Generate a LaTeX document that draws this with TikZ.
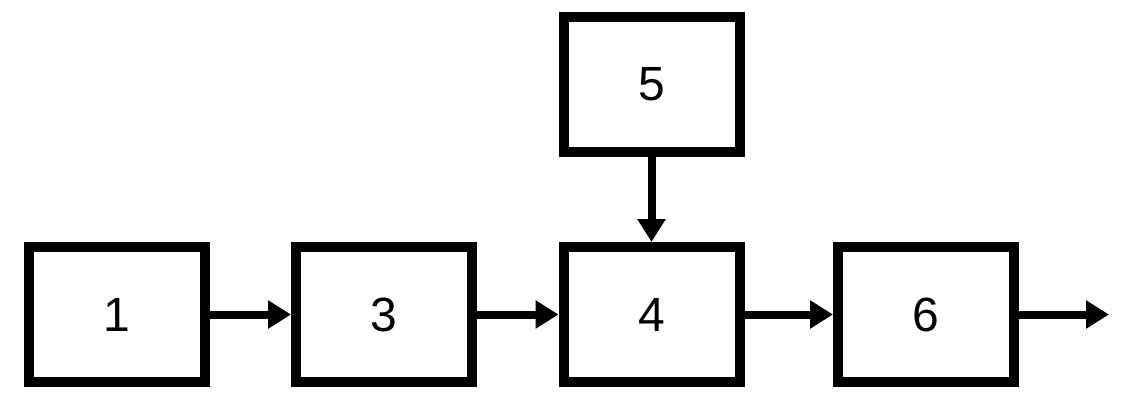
\documentclass[tikz,border=0pt]{standalone}
\usepackage{fontspec}
\setmainfont{Liberation Sans}
\usetikzlibrary{arrows.meta}
\begin{document}
\begin{tikzpicture}[x=1pt,y=-1pt,
  blockbox/.style={draw=black,line width=10pt,minimum width=176pt,minimum height=135pt,inner sep=0pt,font=\fontsize{48}{54}\selectfont},
  conn/.style={line width=8pt,-{Triangle[length=23pt,width=27pt]}}]
\useasboundingbox (0,0) rectangle (1128,402);
\node[blockbox] (n1) at (117,314.5) {1};
\node[blockbox] (n3) at (384,314.5) {3};
\node[blockbox] (n4) at (651.5,314.5) {4};
\node[blockbox] (n6) at (926,314.5) {6};
\node[blockbox] (n5) at (651.5,84.5) {5};
\coordinate (out) at (1109,314.5);
\draw[conn] (n1) -- (n3);
\draw[conn] (n3) -- (n4);
\draw[conn] (n4) -- (n6);
\draw[conn] (n6) -- (out);
\draw[conn] (n5) -- (n4);
\end{tikzpicture}
\end{document}
